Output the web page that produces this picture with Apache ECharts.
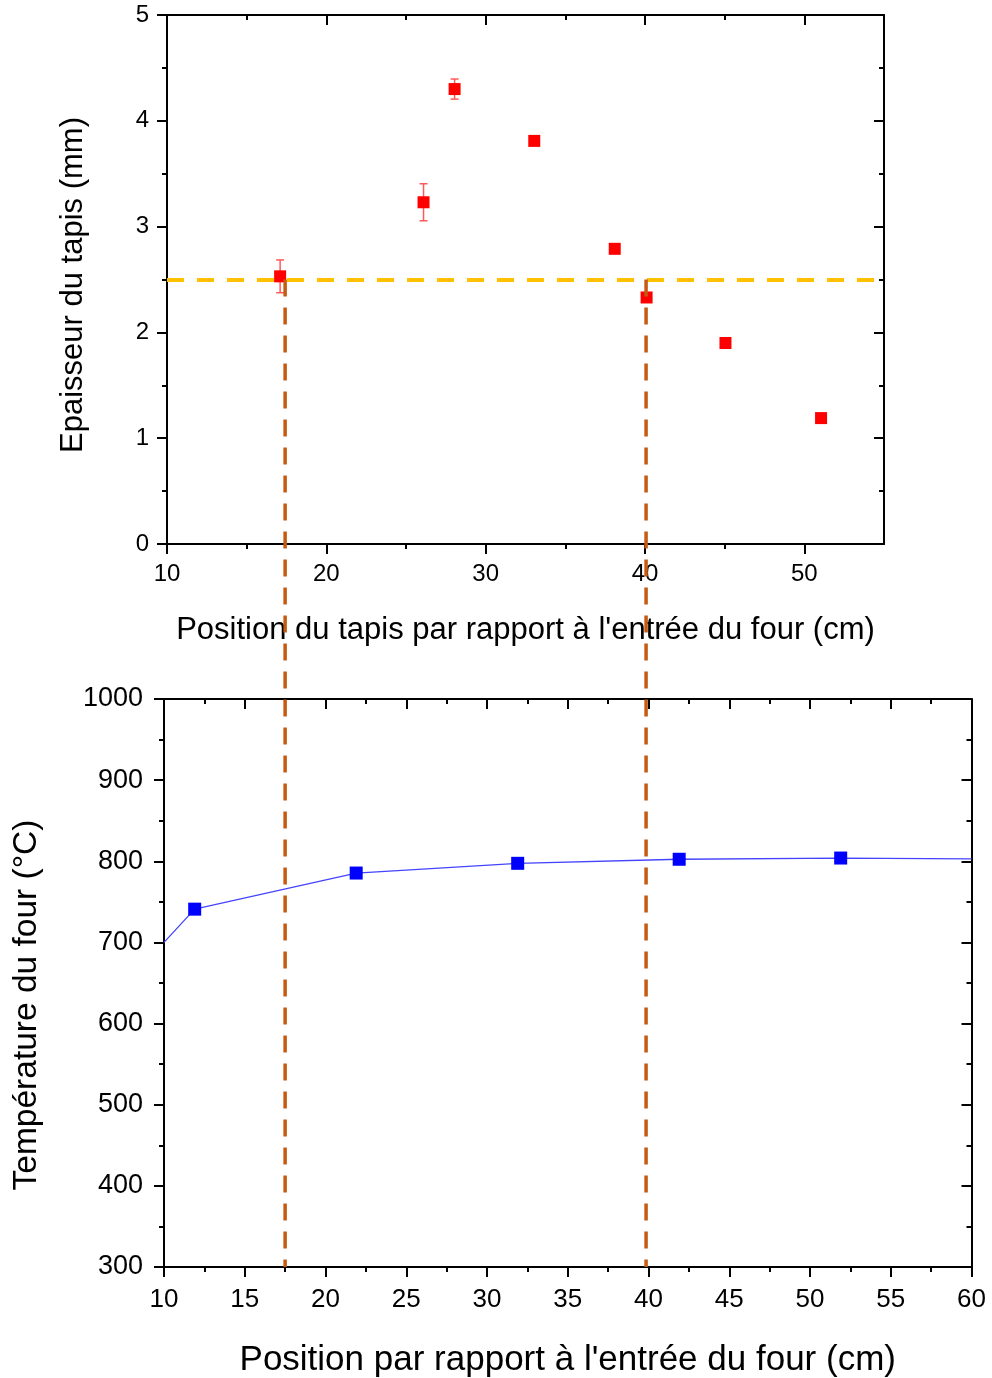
<!DOCTYPE html>
<html>
<head>
<meta charset="utf-8">
<script src="https://cdn.jsdelivr.net/npm/echarts@6/dist/echarts.min.js"></script>
<style>
html,body{margin:0;padding:0;background:#fff;}
#chart{width:992px;height:1378px;}
</style>
</head>
<body>
<div id="chart"></div>
<script>
// ---- Data ----
var topX = [17.1, 26.1, 28.05, 33.05, 38.1, 40.1, 45.05, 51.05];
var topY = [2.53, 3.23, 4.30, 3.81, 2.79, 2.33, 1.90, 1.19];
var topErr = [0.155, 0.175, 0.095, 0, 0, 0, 0, 0];
var threshold = 2.5;

var botX = [11.9, 21.9, 31.9, 41.9, 51.9];
var botY = [741, 785.5, 797.5, 802.5, 804];
var lineX = [10, 11.9, 21.9, 31.9, 41.9, 51.9, 60];
var lineY = [700, 741, 785.5, 797.5, 802.5, 804, 803];

var vlineX = [17.5, 39.85];

var topMajorTicks = [10, 20, 30, 40, 50];
var topMinorTicks = [15, 25, 35, 45];

// ---- Styles ----
var FONT = 'Liberation Sans, Arial, sans-serif';
var axisLineStyle = {color: '#000', width: 2};
var tickLS = {color: '#000', width: 2};

function zip(a, b) { return a.map(function (v, i) { return [v, b[i]]; }); }
function plain(v) { return String(v); }

var chart = echarts.init(document.getElementById('chart'), null, {renderer: 'canvas'});

var baseX = function (o) {
  var ax = {
    type: 'value', splitLine: {show: false},
    axisLine: {show: true, onZero: false, lineStyle: axisLineStyle},
    axisLabel: {show: false},
    axisTick: {show: true, lineStyle: tickLS},
    minorTick: {show: false}
  };
  for (var k in o) ax[k] = o[k];
  return ax;
};

var option = {
  animation: false,
  backgroundColor: '#fff',
  grid: [
    {left: 167, right: 108, top: 15, bottom: 834, outerBoundsMode: 'none', containLabel: false},
    {left: 164, right: 20.5, top: 699, bottom: 111, outerBoundsMode: 'none', containLabel: false}
  ],
  xAxis: [
    // 0: top chart, bottom side, major + labels
    baseX({gridIndex: 0, position: 'bottom', min: 10, max: 55, interval: 10,
      axisTick: {show: true, length: 10, inside: false, lineStyle: tickLS, customValues: topMajorTicks},
      axisLabel: {show: true, customValues: topMajorTicks, fontSize: 24, color: '#000', fontFamily: FONT, margin: 18, formatter: plain},
      name: "Position du tapis par rapport à l'entrée du four (cm)",
      nameLocation: 'middle', nameGap: 71,
      nameTextStyle: {fontSize: 31, color: '#000', fontFamily: FONT}
    }),
    // 1: top chart, bottom side, minor ticks
    baseX({gridIndex: 0, position: 'bottom', min: 10, max: 55, interval: 10,
      axisLine: {show: false, onZero: false},
      axisTick: {show: true, length: 5, inside: false, lineStyle: tickLS, customValues: topMinorTicks}
    }),
    // 2: top chart, top side, major inside
    baseX({gridIndex: 0, position: 'top', min: 10, max: 55, interval: 10,
      axisTick: {show: true, length: 10, inside: true, lineStyle: tickLS, customValues: topMajorTicks}
    }),
    // 3: top chart, top side, minor inside
    baseX({gridIndex: 0, position: 'top', min: 10, max: 55, interval: 10,
      axisLine: {show: false, onZero: false},
      axisTick: {show: true, length: 5, inside: true, lineStyle: tickLS, customValues: topMinorTicks}
    }),
    // 4: bottom chart, bottom side
    baseX({gridIndex: 1, position: 'bottom', min: 10, max: 60, interval: 5,
      axisTick: {show: true, length: 10, inside: false, lineStyle: tickLS},
      minorTick: {show: true, splitNumber: 2, length: 5, lineStyle: tickLS},
      axisLabel: {show: true, fontSize: 26, color: '#000', fontFamily: FONT, margin: 20, formatter: plain},
      name: "Position par rapport à l'entrée du four (cm)",
      nameLocation: 'middle', nameGap: 76,
      nameTextStyle: {fontSize: 35, color: '#000', fontFamily: FONT}
    }),
    // 5: bottom chart, top side
    baseX({gridIndex: 1, position: 'top', min: 10, max: 60, interval: 5,
      axisTick: {show: true, length: 10, inside: true, lineStyle: tickLS},
      minorTick: {show: true, splitNumber: 2, length: 5, lineStyle: tickLS}
    })
  ],
  yAxis: [
    // 0: top chart left
    {gridIndex: 0, type: 'value', position: 'left', min: 0, max: 5, interval: 1,
      splitLine: {show: false},
      axisLine: {show: true, onZero: false, lineStyle: axisLineStyle},
      axisTick: {show: true, length: 10, inside: false, lineStyle: tickLS},
      minorTick: {show: true, splitNumber: 2, length: 5, lineStyle: tickLS},
      axisLabel: {fontSize: 24, color: '#000', fontFamily: FONT, margin: 18, formatter: plain},
      name: 'Epaisseur du tapis (mm)', nameLocation: 'middle', nameGap: 78,
      nameTextStyle: {fontSize: 31, color: '#000', fontFamily: FONT, padding: [0, 11, 0, 0]}
    },
    // 1: top chart right
    {gridIndex: 0, type: 'value', position: 'right', min: 0, max: 5, interval: 1,
      splitLine: {show: false},
      axisLine: {show: true, onZero: false, lineStyle: axisLineStyle},
      axisTick: {show: true, length: 10, inside: true, lineStyle: tickLS},
      minorTick: {show: true, splitNumber: 2, length: 5, lineStyle: tickLS},
      axisLabel: {show: false}
    },
    // 2: bottom chart left
    {gridIndex: 1, type: 'value', position: 'left', min: 300, max: 1000, interval: 100,
      splitLine: {show: false},
      axisLine: {show: true, onZero: false, lineStyle: axisLineStyle},
      axisTick: {show: true, length: 10, inside: false, lineStyle: tickLS},
      minorTick: {show: true, splitNumber: 2, length: 5, lineStyle: tickLS},
      axisLabel: {fontSize: 27, color: '#000', fontFamily: FONT, margin: 21, formatter: plain},
      name: 'Température du four (°C)', nameLocation: 'middle', nameGap: 120,
      nameTextStyle: {fontSize: 33.5, color: '#000', fontFamily: FONT, padding: [0, 44, 0, 0]}
    },
    // 3: bottom chart right
    {gridIndex: 1, type: 'value', position: 'right', min: 300, max: 1000, interval: 100,
      splitLine: {show: false},
      axisLine: {show: true, onZero: false, lineStyle: axisLineStyle},
      axisTick: {show: true, length: 10, inside: true, lineStyle: tickLS},
      minorTick: {show: true, splitNumber: 2, length: 5, lineStyle: tickLS},
      axisLabel: {show: false}
    }
  ],
  series: [
    {
      type: 'custom', xAxisIndex: 0, yAxisIndex: 0, silent: true, z: 3,
      data: topX.map(function (x, i) { return [x, topY[i], topErr[i]]; }),
      renderItem: function (params, api) {
        var x = api.value(0), y = api.value(1), e = api.value(2);
        if (!e) return null;
        var hi = api.coord([x, y + e]);
        var lo = api.coord([x, y - e]);
        var cw = 4;
        var st = {stroke: '#FF5A5A', lineWidth: 1.5};
        return {
          type: 'group',
          children: [
            {type: 'line', shape: {x1: hi[0], y1: hi[1], x2: lo[0], y2: lo[1]}, style: st},
            {type: 'line', shape: {x1: hi[0] - cw, y1: hi[1], x2: hi[0] + cw, y2: hi[1]}, style: st},
            {type: 'line', shape: {x1: lo[0] - cw, y1: lo[1], x2: lo[0] + cw, y2: lo[1]}, style: st}
          ]
        };
      }
    },
    {
      type: 'scatter', xAxisIndex: 0, yAxisIndex: 0, z: 4,
      symbol: 'rect', symbolSize: 12,
      itemStyle: {color: '#FF0000', opacity: 1},
      data: zip(topX, topY),
      markLine: {
        silent: true, symbol: ['none', 'none'], label: {show: false},
        lineStyle: {color: '#FFC000', width: 4, type: [17, 13], opacity: 1},
        data: [{yAxis: threshold}]
      }
    },
    {
      type: 'line', xAxisIndex: 4, yAxisIndex: 2, z: 3,
      showSymbol: false, symbol: 'none',
      lineStyle: {color: '#4444FF', width: 1.3},
      data: zip(lineX, lineY)
    },
    {
      type: 'scatter', xAxisIndex: 4, yAxisIndex: 2, z: 4,
      symbol: 'rect', symbolSize: 13,
      itemStyle: {color: '#0000FF', opacity: 1},
      data: zip(botX, botY)
    }
  ]
};

chart.setOption(option);

// vertical dashed guide lines spanning both charts, positioned via the axes' scales
var graphics = vlineX.map(function (xv) {
  var topPt = chart.convertToPixel({xAxisIndex: 0, yAxisIndex: 0}, [xv, threshold]);
  var botPt = chart.convertToPixel({xAxisIndex: 4, yAxisIndex: 2}, [xv, 300]);
  return {
    type: 'line', z: 10, silent: true,
    shape: {x1: botPt[0], y1: topPt[1], x2: botPt[0], y2: botPt[1]},
    style: {stroke: '#C55A11', lineWidth: 3.5, lineDash: [17, 11]}
  };
});
chart.setOption({graphic: graphics});
</script>
</body>
</html>
